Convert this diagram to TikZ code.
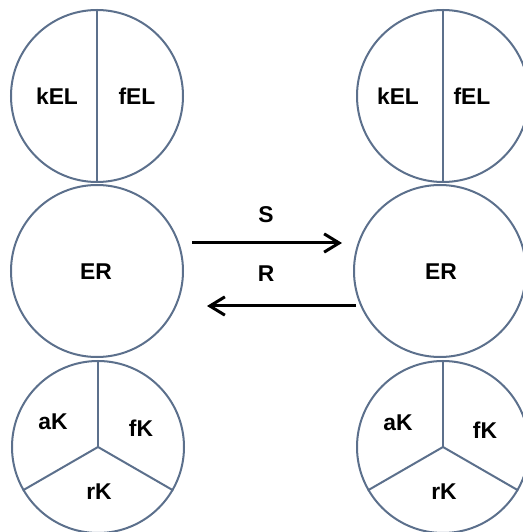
\documentclass[tikz,border=0pt]{standalone}
\usepackage{fontspec}
\setmainfont{Liberation Sans}
\usetikzlibrary{arrows.meta}
\definecolor{rim}{RGB}{92,112,140}

\begin{document}
\begin{tikzpicture}[x=0.3mm, y=0.3mm]
\tikzset{boule/.style={draw=rim, line width=0.6mm, circle, minimum size=51.6mm, inner sep=0pt},
  trait/.style={draw=rim, line width=0.6mm},
  etiq/.style={font=\fontsize{19.5}{23}\selectfont\bfseries, inner sep=0pt},
  fleche/.style={line width=0.9mm, -{Straight Barb[length=4.5mm, width=5.5mm, line width=0.9mm]}}}
\clip (0, 0) rectangle (523, 532);
% left column
\node[boule] (EL1) at (97, 436) {};
\node[boule] (ER1) at (97, 261) {};
\node[boule] (K1) at (98, 85) {};
% right column
\node[boule] (EL2) at (443, 436) {};
\node[boule] (ER2) at (440, 261) {};
\node[boule] (K2) at (443, 85) {};
% dividers
\draw[trait] (EL1.north) -- (EL1.south);
\draw[trait] (EL2.north) -- (EL2.south);
\draw[trait] (K1.center) -- (K1.north);
\draw[trait] (K1.center) -- (K1.210);
\draw[trait] (K1.center) -- (K1.330);
\draw[trait] (K2.center) -- (K2.north);
\draw[trait] (K2.center) -- (K2.210);
\draw[trait] (K2.center) -- (K2.330);
% labels
\node[etiq] (kEL1) at (57, 436) {kEL};
\node[etiq] (fEL1) at (137, 436) {fEL};
\node[etiq] (kEL2) at (398, 436) {kEL};
\node[etiq] (fEL2) at (472, 436) {fEL};
\node[etiq] (ERt1) at (96, 260) {ER};
\node[etiq] (ERt2) at (441, 260) {ER};
\node[etiq] (aK1) at (53, 110) {aK};
\node[etiq] (fK1) at (141, 104) {fK};
\node[etiq] (rK1) at (99, 40) {rK};
\node[etiq] (aK2) at (398, 109) {aK};
\node[etiq] (fK2) at (485, 102) {fK};
\node[etiq] (rK2) at (444, 40) {rK};
% transitions
\coordinate (s0) at (192, 289);
\coordinate (s1) at (342, 289);
\coordinate (r0) at (356, 226);
\coordinate (r1) at (207, 226);
\draw[fleche] (s0) -- (s1);
\draw[fleche] (r0) -- (r1);
\node[etiq] (S) at (266, 317) {S};
\node[etiq] (R) at (266, 258) {R};
\end{tikzpicture}
\end{document}
